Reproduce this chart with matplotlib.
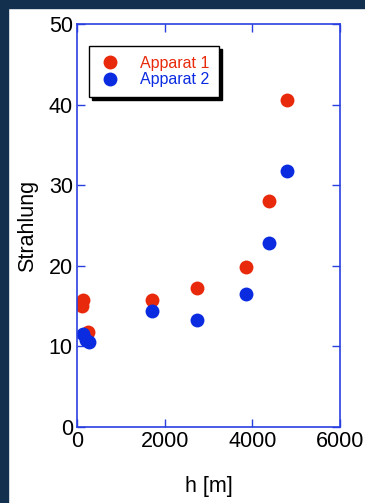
import matplotlib.pyplot as plt
import matplotlib.patches as patches

# Data.
h_app1 = [137, 114, 250, 1712, 2740, 3860, 4380, 4790]
s_app1 = [15.8, 15.0, 11.8, 15.8, 17.3, 19.8, 28.0, 40.6]
h_app2 = [137, 205, 270, 1712, 2740, 3860, 4380, 4790]
s_app2 = [11.6, 10.8, 10.6, 14.4, 13.3, 16.5, 22.8, 31.8]

red = '#e8290b'
blue = '#0a2be0'
axis_blue = '#2a3fe0'
navy = '#14304f'

plt.rcParams['font.family'] = ['Liberation Sans', 'DejaVu Sans']

fig = plt.figure(figsize=(3.65, 5.03), dpi=100)

# Dark frame on top and left.
fig.patches.append(patches.Rectangle((0, 0), 8 / 365, 1, transform=fig.transFigure,
                                     color=navy, zorder=0))
fig.patches.append(patches.Rectangle((0, 1 - 8 / 503), 1, 8 / 503, transform=fig.transFigure,
                                     color=navy, zorder=0))

ax = fig.add_axes([77 / 365, 1 - 427 / 503, 263 / 365, 403 / 503])

ax.plot(h_app1, s_app1, 'o', color=red, markersize=10, markeredgewidth=0, label='Apparat 1')
ax.plot(h_app2, s_app2, 'o', color=blue, markersize=10, markeredgewidth=0, label='Apparat 2')

ax.set_xlim(0, 6000)
ax.set_ylim(0, 50)
ax.set_xticks([0, 2000, 4000, 6000])
ax.set_yticks([0, 10, 20, 30, 40, 50])

for spine in ax.spines.values():
    spine.set_color(axis_blue)
    spine.set_linewidth(1.2)
ax.tick_params(direction='in', top=True, right=True, length=6, width=1,
               color=axis_blue, labelsize=15.5, pad=3)

ax.set_xlabel('h [m]', fontsize=15.5, labelpad=17)
ax.set_ylabel('Strahlung', fontsize=15.5, labelpad=8)

# Legend with shadow.
leg = ax.legend(loc='upper left', bbox_to_anchor=(0.045, 0.945), fontsize=11.5,
                frameon=True, fancybox=False,
                shadow={'color': 'black', 'alpha': 1},
                handletextpad=1.1, borderpad=0.6, labelspacing=0.1,
                handlelength=1.5, borderaxespad=0)
leg.get_frame().set_edgecolor('black')
leg.get_frame().set_linewidth(1)
for text, c in zip(leg.get_texts(), [red, blue]):
    text.set_color(c)

fig.savefig('out.png', dpi=100)
